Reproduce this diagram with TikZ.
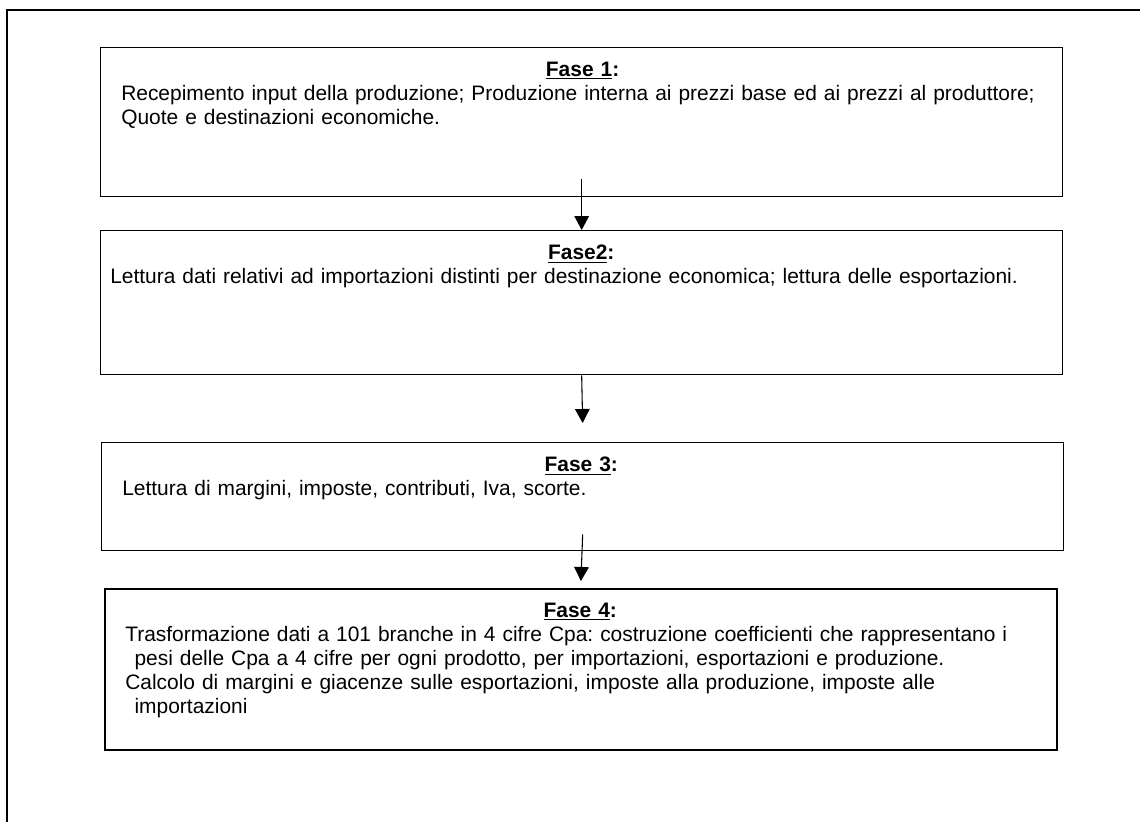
\documentclass[tikz,border=0pt]{standalone}
\usepackage{fontspec}
\setmainfont{Liberation Sans}
\usetikzlibrary{arrows.meta, positioning, calc}

\begin{document}
\begin{tikzpicture}[
      x=0.75pt, y=-0.75pt,
      phase/.style={rectangle, draw, line width=1pt, anchor=north west, inner sep=0pt},
      phasetext/.style={anchor=north west, inner sep=0pt, font=\fontsize{15.7}{18}\selectfont\frenchspacing},
      arrow/.style={-{Triangle[width=11pt, length=10.5pt]}, line width=0.8pt}
    ]
    \useasboundingbox (0,0) rectangle (1140,822);
    \draw[line width=0.8pt] (1140,10) -- (7,10) -- (7,822);

    \node[phase, minimum width=721.5pt, minimum height=111.75pt] (fase1) at (100,47) {};
    \node[phase, minimum width=721.5pt, minimum height=108pt] (fase2) at (100,230) {};
    \node[phase, minimum width=721.5pt, minimum height=81pt] (fase3) at (101,442) {};
    \node[phase, line width=1.4pt, minimum width=714pt, minimum height=120.75pt] (fase4) at (104,588) {};

    \node[phasetext, text width=692pt] (testo1) at ($(fase1.north west)+(21,15)$)
      {{\centering\textbf{\underline{Fase 1}:}\par}\raggedright
       Recepimento input della produzione; Produzione interna ai prezzi base ed ai prezzi al produttore;\\
       Quote e destinazioni economiche.};
    \node[phasetext, text width=706.5pt] (testo2) at ($(fase2.north west)+(10,15)$)
      {{\centering\textbf{\underline{Fase2}:}\par}\raggedright
       Lettura dati relativi ad importazioni distinti per destinazione economica; lettura delle esportazioni.};
    \node[phasetext, text width=688.5pt] (testo3) at ($(fase3.north west)+(21,15)$)
      {{\centering\textbf{\underline{Fase 3}:}\par}\raggedright
       Lettura di margini, imposte, contributi, Iva, scorte.};
    \node[phasetext, text width=682.5pt] (testo4) at ($(fase4.north west)+(21,15)$)
      {{\centering\textbf{\underline{Fase 4}:}\par}\raggedright
       Trasformazione dati a 101 branche in 4 cifre Cpa: costruzione coefficienti che rappresentano i\\
       \hspace*{7pt}pesi delle Cpa a 4 cifre per ogni prodotto, per importazioni, esportazioni e produzione.\\
       Calcolo di margini e giacenze sulle esportazioni, imposte alla produzione, imposte alle\\
       \hspace*{7pt}importazioni};

    \draw[arrow] ([yshift=13.5pt]fase1.south) -- (fase2.north);
    \draw[arrow] (fase2.south) -- ([yshift=14.25pt]fase3.north);
    \draw[arrow] ([yshift=12.75pt]fase3.south) -- ([yshift=5.25pt]fase4.north);
  \end{tikzpicture}
\end{document}
